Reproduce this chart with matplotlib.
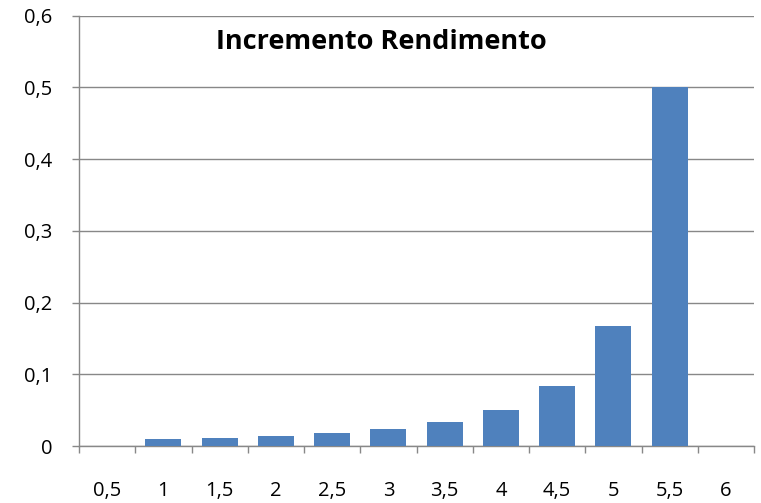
import numpy as np
import matplotlib.pyplot as plt

# categorie sull'asse x e valori delle barre
categorie = ["0,5", "1", "1,5", "2", "2,5", "3", "3,5", "4", "4,5", "5", "5,5", "6"]
incremento = [0, 0.0095, 0.011, 0.014, 0.018, 0.024, 0.033, 0.05, 0.083, 0.167, 0.5, 0]
yticks = [0, 0.1, 0.2, 0.3, 0.4, 0.5, 0.6]
ylabels = ["0", "0,1", "0,2", "0,3", "0,4", "0,5", "0,6"]

plt.rcParams['font.family'] = ['Open Sans', 'DejaVu Sans']

fig = plt.figure(figsize=(7.61, 5.03), dpi=100)
ax = fig.add_axes([79/761, 57/503, 675/761, 430.5/503])

x = np.arange(len(categorie))
ax.bar(x, incremento, width=0.64, color="#4f81bd", zorder=3)

ax.set_xlim(-0.5, len(categorie) - 0.5)
ax.set_ylim(0, 0.6)

# tick ai bordi delle categorie, etichette al centro
ax.set_xticks(np.arange(len(categorie) + 1) - 0.5)
ax.set_xticklabels([])
ax.set_xticks(x, minor=True)
ax.set_xticklabels(categorie, minor=True, fontsize=14.5)
ax.tick_params(axis="x", which="major", direction="out", length=5, width=1, color="#888888")
ax.tick_params(axis="x", which="minor", length=0, pad=25)

ax.set_yticks(yticks)
ax.set_yticklabels(ylabels, fontsize=14.5)
ax.tick_params(axis="y", direction="out", length=5, width=1, color="#888888", pad=14)

ax.grid(axis="y", color="#888888", linewidth=1, zorder=0)
for s in ["top", "right"]:
    ax.spines[s].set_visible(False)
for s in ["left", "bottom"]:
    ax.spines[s].set_color("#888888")
    ax.spines[s].set_linewidth(1)

fig.text(381/761, 1 - 49/503, "Incremento Rendimento", ha="center", va="baseline",
         fontsize=19.5, fontweight="bold")

fig.savefig("out.png", dpi=100)
